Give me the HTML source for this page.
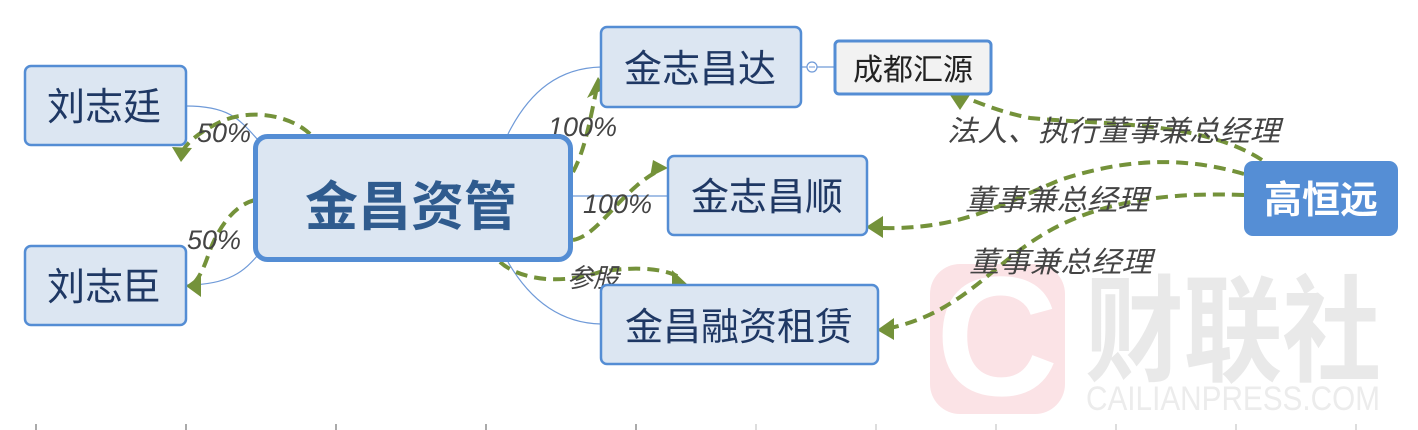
<!DOCTYPE html>
<html><head><meta charset="utf-8"><style>
html,body{margin:0;padding:0;background:#fff;}
svg{display:block;}
text{font-family:"Liberation Sans","Noto Sans CJK SC",sans-serif;}
</style></head><body>
<svg width="1418" height="430" viewBox="0 0 1418 430" xmlns="http://www.w3.org/2000/svg">
<!-- watermark -->
<rect x="930" y="264" width="135" height="150" rx="30" fill="#fbe3e6"/>
<text x="997" y="395" font-size="170" font-weight="bold" fill="#fff" text-anchor="middle" font-family="Liberation Sans">C</text>
<text x="1085" y="372" font-size="116" font-weight="bold" fill="#e9e9e9" textLength="296" lengthAdjust="spacingAndGlyphs">财联社</text>
<text x="1086" y="410" font-size="34" fill="#ececec" textLength="294" lengthAdjust="spacingAndGlyphs">CAILIANPRESS.COM</text>
<!-- ticks -->
<g stroke="#555" stroke-width="1">
<line x1="36" y1="424" x2="36" y2="430"/><line x1="186" y1="424" x2="186" y2="430"/><line x1="336" y1="424" x2="336" y2="430"/><line x1="486" y1="424" x2="486" y2="430"/><line x1="636" y1="424" x2="636" y2="430"/>
<line x1="756" y1="424" x2="756" y2="430" stroke="#bbb"/><line x1="876" y1="424" x2="876" y2="430" stroke="#bbb"/><line x1="996" y1="424" x2="996" y2="430" stroke="#bbb"/><line x1="1116" y1="424" x2="1116" y2="430" stroke="#bbb"/><line x1="1236" y1="424" x2="1236" y2="430" stroke="#bbb"/><line x1="1356" y1="424" x2="1356" y2="430" stroke="#bbb"/>
</g>
<!-- thin blue connectors -->
<g fill="none" stroke="#6f9ad8" stroke-width="1.2">
<path d="M186 106 C230 106 240 120 258 140"/>
<path d="M186 285 C230 285 245 270 258 255"/>
<path d="M508 134 C530 90 560 68 601 67"/>
<path d="M573 196 L668 196"/>
<path d="M508 262 C530 300 560 323 601 324"/>
<path d="M801 67 L835 67"/>
</g>
<circle cx="812" cy="67" r="5" fill="#fff" stroke="#6f9ad8" stroke-width="1.2"/>
<line x1="809" y1="67" x2="815" y2="67" stroke="#6f9ad8"/>
<!-- green dashed connectors -->
<g fill="none" stroke="#74923a" stroke-width="4" stroke-dasharray="12 7">
<path d="M310 134 C290 115 250 108 220 122 C200 132 190 140 183 150"/>
<path d="M255 200 C235 205 220 225 210 250 C205 265 200 278 192 285"/>
<path d="M573 172 C585 150 590 120 596 92"/>
<path d="M573 240 C600 235 620 190 660 170"/>
<path d="M500 262 C520 280 560 285 600 272 C640 265 670 270 680 278"/>
<path d="M1262 160 C1200 120 1100 125 1030 118 C1000 112 980 103 966 98"/>
<path d="M1244 174 C1180 155 1120 160 1060 180 C1000 205 960 230 880 228"/>
<path d="M1244 195 C1120 190 1060 220 1020 250 C980 280 950 315 890 328"/>
</g>
<g fill="#74923a">
<polygon points="172,147 192,148 181,162"/>
<polygon points="186,286 201,275 201,297"/>
<polygon points="587,98 606,88 598,77"/>
<polygon points="653,160 668,168 650,177"/>
<polygon points="672,270 688,285 672,287"/>
<polygon points="950,95 970,95 960,110"/>
<polygon points="866,227 883,216 883,238"/>
<polygon points="877,330 894,318 894,340"/>
</g>
<!-- labels -->
<g font-style="italic" fill="#444" font-size="27">
<text x="197" y="142">50%</text>
<text x="187" y="249">50%</text>
<text x="548" y="136">100%</text>
<text x="583" y="213">100%</text>
<text x="567" y="287" font-size="26">参股</text>
<text x="947" y="141" font-size="29" textLength="333" lengthAdjust="spacingAndGlyphs">法人、执行董事兼总经理</text>
<text x="965" y="210" font-size="29" textLength="183" lengthAdjust="spacingAndGlyphs">董事兼总经理</text>
<text x="969" y="272" font-size="29" textLength="183" lengthAdjust="spacingAndGlyphs">董事兼总经理</text>
</g>
<!-- boxes -->
<g stroke="#548dd4" stroke-width="2.5" fill="#dce6f2">
<rect x="25" y="66" width="161" height="79" rx="6"/>
<rect x="25" y="246" width="161" height="79" rx="6"/>
<rect x="601" y="27" width="200" height="80" rx="6"/>
<rect x="668" y="156" width="199" height="79" rx="6"/>
<rect x="601" y="285" width="277" height="79" rx="6"/>
<rect x="835" y="41" width="156" height="53" rx="4" fill="#f2f2f2" stroke-width="3"/>
<rect x="255.5" y="136.5" width="315" height="123" rx="12" stroke-width="5"/>
</g>
<rect x="1244" y="161" width="154" height="75" rx="9" fill="#558ed5"/>
<g fill="#1f3864" font-size="38" text-anchor="middle">
<text x="104" y="120">刘志廷</text>
<text x="104" y="300">刘志臣</text>
<text x="700" y="82">金志昌达</text>
<text x="767" y="210">金志昌顺</text>
<text x="739" y="340">金昌融资租赁</text>
<text x="913" y="80" font-size="30" fill="#222">成都汇源</text>
</g>
<text x="411" y="225" font-size="53" font-weight="bold" fill="#2f5b8e" text-anchor="middle">金昌资管</text>
<text x="1321" y="213" font-size="38" font-weight="bold" fill="#fff" text-anchor="middle">高恒远</text>
</svg>
</body></html>
